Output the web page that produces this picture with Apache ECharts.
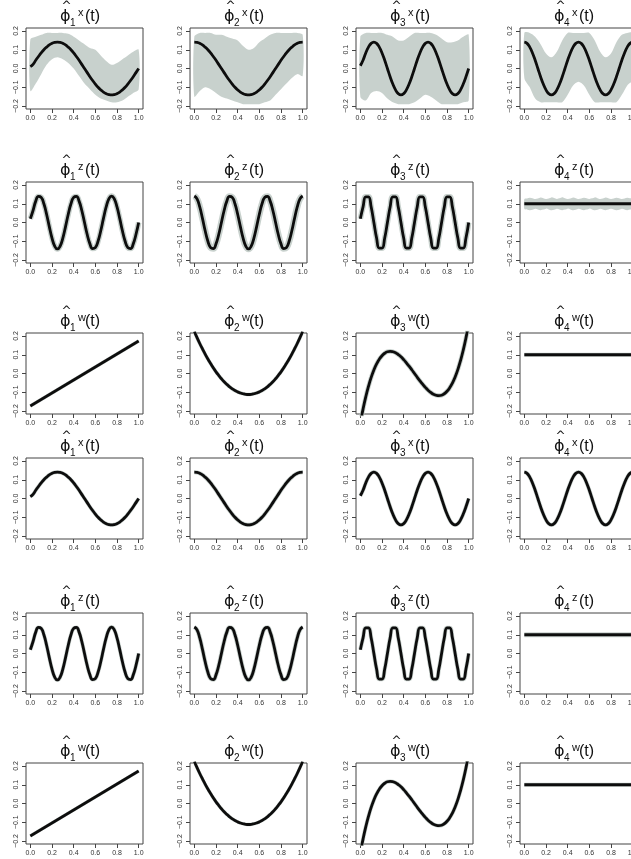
<!DOCTYPE html>
<html>
<head>
<meta charset="utf-8">
<script src="https://cdn.jsdelivr.net/npm/echarts@6/dist/echarts.min.js"></script>
<style>
  html, body { margin: 0; padding: 0; background: #fff; overflow: hidden; }
  /* wider than the window: the last column runs off the right edge like the source */
  #chart { width: 680px; height: 859px; }
</style>
</head>
<body>
<div id="chart"></div>
<script>
// sample positions on t
const tFine = [0,0.025,0.05,0.075,0.1,0.125,0.15,0.175,0.2,0.225,0.25,0.275,0.3,0.325,0.35,0.375,0.4,0.425,0.45,0.475,0.5,0.525,0.55,0.575,0.6,0.625,0.65,0.675,0.7,0.725,0.75,0.775,0.8,0.825,0.85,0.875,0.9,0.925,0.95,0.975,1];
const tCoarse = [0,0.05,0.1,0.15,0.2,0.25,0.3,0.35,0.4,0.45,0.5,0.55,0.6,0.65,0.7,0.75,0.8,0.85,0.9,0.95,1];
const tEnds = [0, 1];

// tick labels
const xTicks = [0, 0.2, 0.4, 0.6, 0.8, 1];
const yTicks = [-0.2, -0.1, 0, 0.1, 0.2];

// black (true) eigenfunctions, x set
const phiX1 = [0.01,0.022,0.044,0.064,0.083,0.1,0.114,0.126,0.134,0.139,0.141,0.139,0.134,0.126,0.114,0.1,0.083,0.064,0.044,0.022,0,-0.022,-0.044,-0.064,-0.083,-0.1,-0.114,-0.126,-0.134,-0.139,-0.141,-0.139,-0.134,-0.126,-0.114,-0.1,-0.083,-0.064,-0.044,-0.022,0];
const phiX2 = [0.141,0.139,0.134,0.126,0.114,0.1,0.083,0.064,0.044,0.022,0,-0.022,-0.044,-0.064,-0.083,-0.1,-0.114,-0.126,-0.134,-0.139,-0.141,-0.139,-0.134,-0.126,-0.114,-0.1,-0.083,-0.064,-0.044,-0.022,0,0.022,0.044,0.064,0.083,0.1,0.114,0.126,0.134,0.139,0.141];
const phiX3 = [0.015,0.044,0.083,0.114,0.134,0.141,0.134,0.114,0.083,0.044,0,-0.044,-0.083,-0.114,-0.134,-0.141,-0.134,-0.114,-0.083,-0.044,0,0.044,0.083,0.114,0.134,0.141,0.134,0.114,0.083,0.044,0,-0.044,-0.083,-0.114,-0.134,-0.141,-0.134,-0.114,-0.083,-0.044,0];
const phiX4 = [0.141,0.134,0.114,0.083,0.044,0,-0.044,-0.083,-0.114,-0.134,-0.141,-0.134,-0.114,-0.083,-0.044,0,0.044,0.083,0.114,0.134,0.141,0.134,0.114,0.083,0.044,0,-0.044,-0.083,-0.114,-0.134,-0.141,-0.134,-0.114,-0.083,-0.044,0,0.044,0.083,0.114,0.134,0.141];

// z set
const phiZ1 = [0.02,0.064,0.114,0.139,0.134,0.1,0.044,-0.022,-0.083,-0.126,-0.141,-0.126,-0.083,-0.022,0.044,0.1,0.134,0.139,0.114,0.064,0,-0.064,-0.114,-0.139,-0.134,-0.1,-0.044,0.022,0.083,0.126,0.141,0.126,0.083,0.022,-0.044,-0.1,-0.134,-0.139,-0.114,-0.064,0];
const phiZ2 = [0.141,0.126,0.083,0.022,-0.044,-0.1,-0.134,-0.139,-0.114,-0.064,0,0.064,0.114,0.139,0.134,0.1,0.044,-0.022,-0.083,-0.126,-0.141,-0.126,-0.083,-0.022,0.044,0.1,0.134,0.139,0.114,0.064,0,-0.064,-0.114,-0.139,-0.134,-0.1,-0.044,0.022,0.083,0.126,0.141];
const phiZ3 = [0.02,0.083,0.137,0.137,0.083,0,-0.083,-0.137,-0.137,-0.083,0,0.083,0.137,0.137,0.083,0,-0.083,-0.137,-0.137,-0.083,0,0.083,0.137,0.137,0.083,0,-0.083,-0.137,-0.137,-0.083,0,0.083,0.137,0.137,0.083,0,-0.083,-0.137,-0.137,-0.083,0];
const phiZ4 = [0.1, 0.1];

// w set
const phiW1 = [-0.173, 0.173];
const phiW2 = [0.224,0.191,0.16,0.131,0.103,0.077,0.053,0.03,0.009,-0.01,-0.028,-0.044,-0.058,-0.071,-0.082,-0.091,-0.098,-0.104,-0.108,-0.111,-0.112,-0.111,-0.108,-0.104,-0.098,-0.091,-0.082,-0.071,-0.058,-0.044,-0.028,-0.01,0.009,0.03,0.053,0.077,0.103,0.131,0.16,0.191,0.224];
const phiW3 = [-0.265,-0.19,-0.125,-0.069,-0.021,0.019,0.051,0.076,0.095,0.108,0.116,0.118,0.116,0.111,0.101,0.089,0.074,0.057,0.039,0.02,0,-0.02,-0.039,-0.057,-0.074,-0.089,-0.101,-0.111,-0.116,-0.118,-0.116,-0.108,-0.095,-0.076,-0.051,-0.019,0.021,0.069,0.125,0.19,0.265];
const phiW4 = [0.1, 0.1];

// grey spread of the estimates (upper / lower envelope)
const bandX1Hi = [0.155,0.17,0.18,0.19,0.19,0.19,0.19,0.185,0.17,0.15,0.13,0.11,0.1,0.07,0.04,0.02,0.03,0.05,0.07,0.09,0.1];
const bandX1Lo = [-0.12,-0.08,-0.03,0.02,0.05,0.06,0.05,0.03,0,-0.04,-0.08,-0.11,-0.14,-0.16,-0.17,-0.18,-0.18,-0.17,-0.15,-0.13,-0.11];
const bandX2Hi = [0.17,0.19,0.19,0.19,0.18,0.18,0.17,0.16,0.15,0.12,0.1,0.11,0.14,0.16,0.18,0.19,0.19,0.19,0.19,0.19,0.18];
const bandX2Lo = [-0.15,-0.12,-0.1,-0.11,-0.13,-0.15,-0.16,-0.17,-0.18,-0.19,-0.19,-0.19,-0.19,-0.18,-0.17,-0.14,-0.11,-0.08,-0.05,-0.03,-0.04];
const bandX3Hi = [0.17,0.19,0.19,0.19,0.19,0.18,0.17,0.15,0.15,0.17,0.19,0.19,0.19,0.19,0.18,0.16,0.14,0.14,0.15,0.17,0.18];
const bandX3Lo = [-0.15,-0.17,-0.13,-0.12,-0.13,-0.16,-0.18,-0.19,-0.19,-0.19,-0.18,-0.16,-0.14,-0.15,-0.17,-0.19,-0.19,-0.19,-0.19,-0.18,-0.17];
const bandX4Hi = [0.19,0.19,0.17,0.13,0.08,0.06,0.09,0.15,0.19,0.19,0.19,0.19,0.19,0.15,0.09,0.06,0.08,0.14,0.18,0.19,0.19];
const bandX4Lo = [-0.05,-0.1,-0.16,-0.18,-0.18,-0.18,-0.18,-0.18,-0.14,-0.09,-0.07,-0.09,-0.14,-0.18,-0.18,-0.18,-0.18,-0.18,-0.14,-0.09,-0.06];
const bandZ4Hi = [0.125,0.128,0.132,0.13,0.125,0.128,0.133,0.13,0.126,0.128,0.134,0.131,0.126,0.129,0.135,0.13,0.126,0.128,0.133,0.13,0.125,0.128,0.132,0.13,0.126,0.129,0.134,0.13,0.125,0.128,0.133,0.13,0.126,0.128,0.132,0.13,0.125,0.128,0.132,0.13,0.126];
const bandZ4Lo = [0.072,0.07,0.066,0.068,0.073,0.07,0.066,0.069,0.074,0.07,0.065,0.068,0.073,0.07,0.066,0.069,0.074,0.07,0.065,0.068,0.073,0.07,0.066,0.069,0.074,0.07,0.065,0.068,0.073,0.07,0.066,0.069,0.073,0.07,0.066,0.068,0.073,0.07,0.066,0.069,0.072];

const setNames = ['x', 'z', 'w', 'x', 'z', 'w'];

const curvesX = [[tFine, phiX1], [tFine, phiX2], [tFine, phiX3], [tFine, phiX4]];
const curvesZ = [[tFine, phiZ1], [tFine, phiZ2], [tFine, phiZ3], [tEnds, phiZ4]];
const curvesW = [[tEnds, phiW1], [tFine, phiW2], [tFine, phiW3], [tEnds, phiW4]];

// layout (px)
const colLeft = [26, 190, 356, 520];
const rowTop = [28, 182, 333, 458, 613, 763];
const boxW = 117, boxH = 81;
const grey = '#c8d1cd';

const rows = [
  { curves: curvesX, halo: [0, 0, 0, 0], bands: [[tCoarse, bandX1Lo, bandX1Hi], [tCoarse, bandX2Lo, bandX2Hi], [tCoarse, bandX3Lo, bandX3Hi], [tCoarse, bandX4Lo, bandX4Hi]] },
  { curves: curvesZ, halo: [5.5, 6.5, 5.5, 0], bands: [null, null, null, [tFine, bandZ4Lo, bandZ4Hi]] },
  { curves: curvesW, halo: [3.4, 3.6, 4.6, 3.8], bands: [null, null, null, null] },
  { curves: curvesX, halo: [3.8, 4.2, 4, 4], bands: [null, null, null, null] },
  { curves: curvesZ, halo: [4, 4.4, 4.2, 5], bands: [null, null, null, null] },
  { curves: curvesW, halo: [3.2, 3.4, 4, 3.8], bands: [null, null, null, null] }
];

const fmt = v => v.toFixed(1).replace('-', '\u2212');

const grids = [], xAxes = [], yAxes = [], series = [], graphics = [];

rows.forEach((row, r) => {
  for (let c = 0; c < 4; c++) {
    const g = grids.length;
    grids.push({
      left: colLeft[c], top: rowTop[r], width: boxW, height: boxH,
      show: true, borderColor: '#444', borderWidth: 1, backgroundColor: 'transparent'
    });
    xAxes.push({
      type: 'value', gridIndex: g, min: -0.04, max: 1.04,
      axisLine: { show: false, onZero: false },
      splitLine: { show: false },
      axisTick: { show: true, length: 4, customValues: xTicks, lineStyle: { color: '#444' } },
      axisLabel: { customValues: xTicks, fontSize: 7, margin: 6, color: '#333', fontFamily: 'Liberation Sans', formatter: fmt }
    });
    yAxes.push({
      type: 'value', gridIndex: g, min: -0.216, max: 0.216,
      axisLine: { show: false, onZero: false },
      splitLine: { show: false },
      axisTick: { show: true, length: 4, customValues: yTicks, lineStyle: { color: '#444' } },
      axisLabel: { customValues: yTicks, rotate: 90, fontSize: 7, margin: 6, color: '#333', fontFamily: 'Liberation Sans', formatter: fmt }
    });

    const band = row.bands[c];
    if (band) {
      const [bt, lo, hi] = band;
      series.push({
        type: 'custom', xAxisIndex: g, yAxisIndex: g, silent: true, z: 1,
        data: [[0.5, 0]],
        renderItem: function (params, api) {
          const pts = [];
          for (let k = 0; k < bt.length; k++) pts.push(api.coord([bt[k], hi[k]]));
          for (let k = bt.length - 1; k >= 0; k--) pts.push(api.coord([bt[k], lo[k]]));
          return { type: 'polygon', shape: { points: pts, smooth: 0.3 }, style: { fill: grey } };
        }
      });
    }

    const [ct, cv] = row.curves[c];
    const pts = ct.map((t, k) => [t, cv[k]]);
    if (row.halo[c] > 0) {
      series.push({
        type: 'line', xAxisIndex: g, yAxisIndex: g, data: pts, smooth: true,
        showSymbol: false, silent: true, z: 2,
        lineStyle: { color: grey, width: row.halo[c] }
      });
    }
    series.push({
      type: 'line', xAxisIndex: g, yAxisIndex: g, data: pts, smooth: true,
      showSymbol: false, silent: true, z: 3,
      lineStyle: { color: '#0d0d0d', width: 2.8 }
    });

    // panel title: phi-hat, subscript index, superscript set name, (t)
    const tx = colLeft[c] + 34, ty = rowTop[r] - 3;
    const base = { fill: '#111', verticalAlign: 'bottom', textVerticalAlign: 'bottom' };
    graphics.push({
      type: 'group', x: tx, y: ty, silent: true,
      children: [
        { type: 'text', x: 0, y: 0, style: Object.assign({ text: '\u03d5', font: '16px "DejaVu Sans"' }, base) },
        { type: 'text', x: 1.5, y: -12, style: Object.assign({ text: '^', font: '12px "DejaVu Sans"' }, base) },
        { type: 'text', x: 10, y: 3, style: Object.assign({ text: String(c + 1), font: '10px "Liberation Sans"' }, base) },
        { type: 'text', x: 18, y: -7, style: Object.assign({ text: setNames[r], font: '11px "Liberation Sans"' }, base) },
        { type: 'text', x: 25, y: 0, style: Object.assign({ text: '(t)', font: '16px "Liberation Sans"' }, base) }
      ]
    });
  }
});

const chart = echarts.init(document.getElementById('chart'));
chart.setOption({
  backgroundColor: '#fff',
  animation: false,
  grid: grids,
  xAxis: xAxes,
  yAxis: yAxes,
  series: series,
  graphic: graphics
});
</script>
</body>
</html>
